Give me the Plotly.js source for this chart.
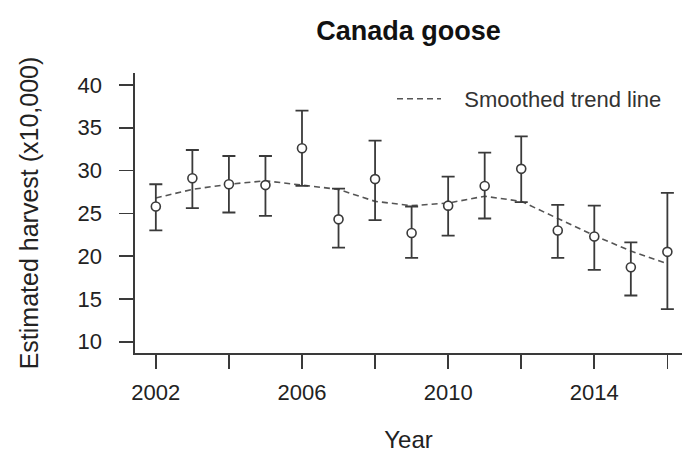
<!DOCTYPE html>
<html>
<head>
<meta charset="utf-8">
<script src="https://cdn.plot.ly/plotly-3.0.1.min.js"></script>
<style>html,body{margin:0;padding:0;background:#fff;}#chart{width:682px;height:455px;}</style>
</head>
<body>
<div id="chart"></div>
<script>
const years = [2002, 2003, 2004, 2005, 2006, 2007, 2008, 2009, 2010, 2011, 2012, 2013, 2014, 2015, 2016];
const harvest = [25.8, 29.1, 28.4, 28.3, 32.6, 24.3, 29.0, 22.7, 25.9, 28.2, 30.2, 23.0, 22.3, 18.7, 20.5];
const upper = [28.4, 32.4, 31.7, 31.7, 37.0, 27.9, 33.5, 25.8, 29.3, 32.1, 34.0, 26.0, 25.9, 21.6, 27.4];
const lower = [23.0, 25.6, 25.1, 24.7, 28.2, 21.0, 24.2, 19.8, 22.4, 24.4, 26.3, 19.8, 18.4, 15.4, 13.8];
const trend = [26.8, 27.8, 28.4, 28.8, 28.3, 27.8, 26.4, 25.9, 26.2, 27.0, 26.4, 24.4, 22.4, 20.6, 19.1];
const xTickVals = [2002, 2004, 2006, 2008, 2010, 2012, 2014, 2016];
const xTickText = ['2002', '', '2006', '', '2010', '', '2014', ''];
const yTickVals = [10, 15, 20, 25, 30, 35, 40];

const FONT = 'Liberation Sans, Arial, sans-serif';
const DARK = '#3a3a3a';

const traces = [
  {
    x: years, y: trend, type: 'scatter', mode: 'lines',
    name: '\u00a0\u00a0\u00a0Smoothed trend line',
    line: {color: '#555555', width: 1.6, dash: '6px,4px'},
    hoverinfo: 'skip'
  },
  {
    x: years, y: harvest, type: 'scatter', mode: 'markers',
    showlegend: false,
    marker: {symbol: 'circle', size: 9, color: '#ffffff', line: {color: DARK, width: 1.6}},
    error_y: {
      type: 'data', symmetric: false,
      array: harvest.map((v, i) => upper[i] - v),
      arrayminus: harvest.map((v, i) => v - lower[i]),
      color: DARK, thickness: 1.8, width: 6.5
    }
  }
];

const layout = {
  width: 682, height: 455,
  margin: {l: 135, r: 0, t: 73, b: 102},
  paper_bgcolor: '#ffffff', plot_bgcolor: '#ffffff',
  font: {family: FONT, color: '#222222', size: 21},
  title: {
    text: '<b>Canada goose</b>',
    font: {family: FONT, size: 27, color: '#111111'},
    xref: 'paper', x: 0.5, xanchor: 'center',
    yref: 'container', y: 1 - 31 / 455, yanchor: 'middle'
  },
  xaxis: {
    range: [2001.43, 2016.40],
    showgrid: false, zeroline: false,
    showline: true, linecolor: DARK, linewidth: 1.6,
    ticks: 'outside', ticklen: 14, tickwidth: 1.6, tickcolor: DARK,
    tickmode: 'array', tickvals: xTickVals, ticktext: xTickText,
    tickfont: {family: FONT, size: 22, color: '#222222'},
    ticklabelstandoff: 5,
    title: {text: 'Year', font: {family: FONT, size: 24, color: '#222222'}, standoff: 27}
  },
  yaxis: {
    range: [8.68, 41.4],
    showgrid: false, zeroline: false,
    showline: true, linecolor: DARK, linewidth: 1.6,
    ticks: 'outside', ticklen: 14, tickwidth: 1.6, tickcolor: DARK,
    tickmode: 'array', tickvals: yTickVals,
    tickfont: {family: FONT, size: 22, color: '#222222'},
    ticklabelstandoff: 13,
    title: {text: 'Estimated harvest (x10,000)', font: {family: FONT, size: 25, color: '#222222'}, standoff: 32}
  },
  showlegend: true,
  legend: {
    x: (398 - 135 - 6) / 547, xanchor: 'left',
    y: 1 - (99 - 73) / 280, yanchor: 'middle',
    bgcolor: 'rgba(0,0,0,0)', borderwidth: 0,
    font: {family: FONT, size: 22, color: '#333333'},
    itemwidth: 44
  }
};

Plotly.newPlot('chart', traces, layout, {displayModeBar: false, staticPlot: true});
</script>
</body>
</html>
